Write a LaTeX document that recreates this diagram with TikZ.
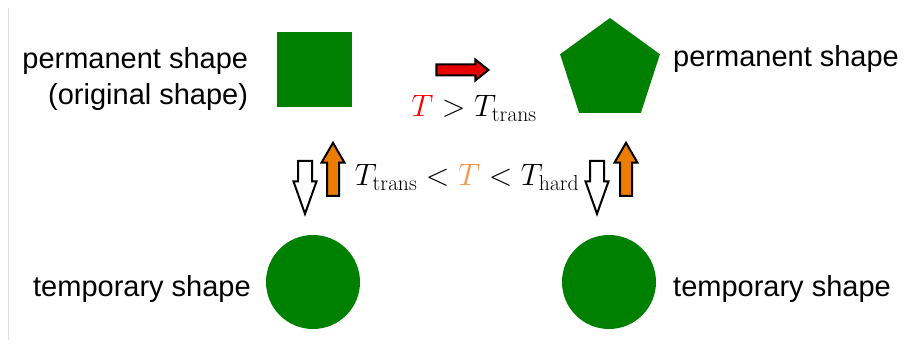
\documentclass[tikz,border=0pt]{standalone}
\usepackage{fix-cm}
\usepackage[no-math]{fontspec}
\setmainfont{Liberation Sans}
\usetikzlibrary{positioning,shapes.geometric,shapes.arrows}
\definecolor{shapegreen}{RGB}{0,128,0}
\definecolor{heatred}{RGB}{230,0,0}
\definecolor{arroworange}{RGB}{237,125,0}
\definecolor{textorange}{RGB}{247,150,70}

\begin{document}
\begin{tikzpicture}[
  x=1pt, y=-1pt,
  every node/.style={font=\fontsize{29}{36}\selectfont, inner sep=0pt},
  greenbody/.style={fill=shapegreen, draw=none},
  mathtxt/.style={font=\fontsize{31}{36}\selectfont, anchor=base},
  blockarrow/.style={single arrow, draw=black, line width=2pt, inner xsep=0pt,
                     single arrow head indent=0pt, minimum height=53pt}
]
\useasboundingbox (0,0) rectangle (911,347);
\draw[gray!25, line width=1pt] (8,8) -- (8,340);

% shapes
\node[greenbody, rectangle, minimum size=75pt] (orig) at (314,70) {};
\node[greenbody, regular polygon, regular polygon sides=5, minimum size=105pt] (perm) at (610,70.5) {};
\node[greenbody, circle, minimum size=94pt] (tempL) at (313,282) {};
\node[greenbody, circle, minimum size=94pt] (tempR) at (609,282) {};

% texts
\node[left=28pt of orig, yshift=-9pt, align=right] (origtxt) {permanent shape\\(original shape)};
\node[anchor=base west] (permtxt) at (673,67) {permanent shape};
\node[anchor=base east] (tempLtxt) at (251,297) {temporary shape};
\node[anchor=base west] (tempRtxt) at (673,297) {temporary shape};

% transitions
\node[blockarrow, fill=heatred, inner ysep=4.5pt, single arrow head extend=5pt,
      single arrow tip angle=77, minimum height=52pt] (hot) at (459,70) {};
\node[mathtxt] (hottxt) at (474,117) {${\color{red}T} > T_{\mathrm{trans}}$};

\node[blockarrow, fill=white, rotate=-90, inner ysep=6pt, single arrow head extend=4.5pt,
      single arrow tip angle=39] (coolL) at (305,177.5) {};
\node[blockarrow, fill=arroworange, rotate=90, inner ysep=5pt, single arrow head extend=5.5pt,
      single arrow tip angle=60] (warmL) at (333,174.5) {};
\node[blockarrow, fill=white, rotate=-90, inner ysep=6pt, single arrow head extend=4.5pt,
      single arrow tip angle=39] (coolR) at (597,177.5) {};
\node[blockarrow, fill=arroworange, rotate=90, inner ysep=5pt, single arrow head extend=5.5pt,
      single arrow tip angle=60] (warmR) at (626,174.5) {};
\node[mathtxt] (midtxt) at (467,186) {$T_{\mathrm{trans}} < {\color{textorange}T} < T_{\mathrm{hard}}$};
\end{tikzpicture}
\end{document}
